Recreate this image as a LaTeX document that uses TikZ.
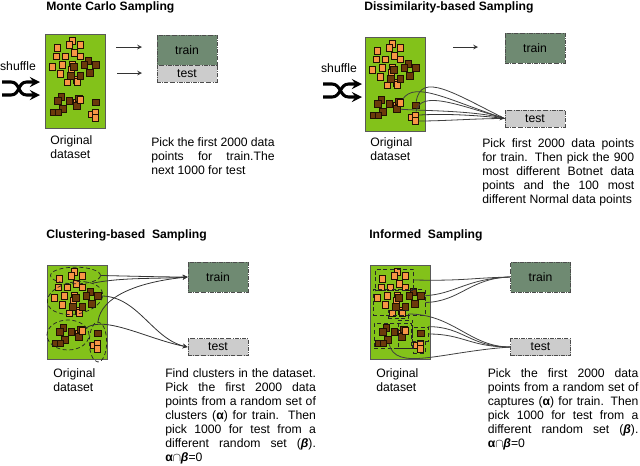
\documentclass[tikz,border=0pt]{standalone}
\usepackage{fontspec}
\setmainfont{Liberation Sans}
\usetikzlibrary{shapes.geometric}

\definecolor{panelgreen}{HTML}{83C21A}
\definecolor{pointorange}{HTML}{F79646}
\definecolor{pointbrown}{HTML}{6B3A0B}
\definecolor{trainfill}{HTML}{6F8A72}
\definecolor{testfill}{HTML}{CCCCCC}

\newcommand{\datapoints}{
    \foreach \i/\x/\y in {1/27.7/7, 2/24/11, 3/35.3/11, 4/12.7/13.7, 5/11/22.3, 6/20/22.3, 7/29.3/19, 8/35.3/22.3,
                          9/7.3/33, 10/17.7/31, 11/15/40, 12/22.3/48.3, 13/27.7/30.3, 14/26/36, 15/31.3/46, 16/32/47.7, 17/31/69}
        \node[orangepoint] (o\i) at (\x,\y) {};
    \foreach \i/\x/\y in {1/43.3/27, 2/39.3/31, 3/50.7/31, 4/44.7/39, 5/28.7/33, 6/26/41.7, 7/35.3/42, 8/16.3/62.7,
                          9/12.7/67, 10/24.3/67, 11/33.7/64.3, 12/32/72, 13/18/75, 14/8.7/78.3, 15/13.3/78.3, 16/50.7/68.3}
        \node[brownpoint] (b\i) at (\x,\y) {};
    \foreach \i/\x/\y in {1/35.3/65.7, 2/46.3/80.3, 3/50.3/78.3, 4/50.3/84}
        \node[orangepoint] (t\i) at (\x,\y) {};
}

\begin{document}
\begin{tikzpicture}[
            x = .75pt, y = -.75pt,
            every node/.style={font=\fontsize{9.15}{10.5}\selectfont, inner sep=0pt},
            heading/.style={anchor=west, font=\fontsize{9.1}{10.5}\selectfont\bfseries},
            body/.style={anchor=north west, align=justify},
            caption/.style={anchor=north west, align=left},
            dataset/.style={fill=panelgreen, draw=black!65, line width=.7pt, minimum width=45pt, minimum height=70.5pt},
            orangepoint/.style={fill=pointorange, draw=black!70!pointbrown, line width=.5pt, minimum width=4.6pt, minimum height=5.2pt},
            brownpoint/.style={fill=pointbrown, draw=black!70!pointbrown, line width=.5pt, minimum width=4.8pt, minimum height=5.2pt},
            trainbox/.style={fill=trainfill, draw=black!70, densely dashdotted, line width=.7pt, minimum width=45pt, minimum height=22.5pt},
            testbox/.style={fill=testfill, draw=black!70, densely dashdotted, line width=.7pt, minimum width=45pt, minimum height=12.75pt},
            cluster/.style={ellipse, draw=black!85, densely dashed, line width=.55pt},
            capture/.style={draw=black!85, densely dashed, line width=.55pt},
            shufflearrow/.style={line width=2.3pt, -stealth},
            line/.style={line width=.6pt, black!75},
            link/.style={line width=.6pt, black!80, -stealth},
            ]
        \useasboundingbox (0,0) rectangle (640,465);

        % monte carlo
        \node[heading] (mc-title) at (46,7) {Monte Carlo Sampling};
        \node[dataset] (mc-data) at (75,81) {};
        \begin{scope}[shift={(45,34)}, name prefix=mc-]
            \datapoints
        \end{scope}
        \node[trainbox] (mc-train) at (187,50) {train};
        \node[testbox] (mc-test) at (187,73.5) {test};
        \node (mc-shuffle) at (18,66) {shuffle};
        \coordinate (mc-in1) at (2,82);
        \coordinate (mc-in2) at (2,95);
        \coordinate (mc-out1) at (40,82);
        \coordinate (mc-out2) at (40,95);
        \draw[shufflearrow] (mc-in1) -- ++(9,0) .. controls +(9,0) and +(-9,0) .. ([xshift=-10pt]mc-out2) -- (mc-out2);
        \draw[shufflearrow] (mc-in2) -- ++(9,0) .. controls +(9,0) and +(-9,0) .. ([xshift=-10pt]mc-out1) -- (mc-out1);
        \coordinate (mc-a1) at (116,47);
        \coordinate (mc-b1) at (142,47);
        \coordinate (mc-a2) at (117,73);
        \coordinate (mc-b2) at (142,73);
        \draw[link] (mc-a1) -- (mc-b1);
        \draw[link] (mc-a2) -- (mc-b2);
        \node[caption] (mc-label) at (50,135.5) {Original\\dataset};
        \node[body, text width=92.5pt] (mc-text) at (151,137.5) {Pick the first 2000 data\linebreak points for train.The\linebreak next 1000 for test};

        % dissimilarity
        \node[heading] (ds-title) at (364,7) {Dissimilarity-based Sampling};
        \node[dataset] (ds-data) at (395,84) {};
        \begin{scope}[shift={(365,37)}, name prefix=ds-]
            \datapoints
        \end{scope}
        \node[trainbox] (ds-train) at (535,48) {train};
        \node[testbox] (ds-test) at (535,118.5) {test};
        \node (ds-shuffle) at (339,68) {shuffle};
        \coordinate (ds-in1) at (323,84);
        \coordinate (ds-in2) at (323,97);
        \coordinate (ds-out1) at (362,84);
        \coordinate (ds-out2) at (362,97);
        \draw[shufflearrow] (ds-in1) -- ++(9,0) .. controls +(9,0) and +(-9,0) .. ([xshift=-10pt]ds-out2) -- (ds-out2);
        \draw[shufflearrow] (ds-in2) -- ++(9,0) .. controls +(9,0) and +(-9,0) .. ([xshift=-10pt]ds-out1) -- (ds-out1);
        \coordinate (ds-a1) at (453,47);
        \coordinate (ds-b1) at (478,47);
        \draw[link] (ds-a1) -- (ds-b1);
        \draw[line] (ds-t1) .. controls +(15,-22) and +(-55,-18) .. (ds-test.west);
        \draw[line] (ds-b16) .. controls +(5,-34) and +(-50,-25) .. (ds-test.west);
        \draw[line] (ds-b12) .. controls +(30,2) and +(-30,-8) .. (ds-test.west);
        \draw[line] (ds-t3) .. controls +(5,-25) and +(-50,-15) .. (ds-test.west);
        \draw[line] (ds-t4) .. controls +(30,0) and +(-30,0) .. (ds-test.west);
        \draw[link] (ds-t3) .. controls +(30,-2) and +(-25,-3) .. (ds-test.west);
        \node[caption] (ds-label) at (370,137.5) {Original\\dataset};
        \node[body, text width=114pt] (ds-text) at (482,138.5) {Pick first 2000 data points\linebreak for train. Then pick the 900\linebreak most different Botnet data\linebreak points and the 100 most\linebreak different Normal data points};

        % clustering
        \node[heading] (cl-title) at (46,235) {Clustering-based~ Sampling};
        \node[dataset] (cl-data) at (77.5,312.5) {};
        \begin{scope}[shift={(47,265)}, name prefix=cl-]
            \datapoints
        \end{scope}
        \node[cluster, minimum width=37.5pt, minimum height=12.5pt] (cl-c1) at (75.5,275.5) {};
        \node[cluster, minimum width=42pt, minimum height=24pt, rotate=10] (cl-c2) at (75,298) {};
        \node[cluster, minimum width=31.5pt, minimum height=22.5pt] (cl-c3) at (68,335) {};
        \node[cluster, minimum width=13pt, minimum height=30pt] (cl-c4) at (98,342) {};
        \node[trainbox] (cl-train) at (218,277) {train};
        \node[testbox] (cl-test) at (218,347) {test};
        \draw[link] (cl-c1) .. controls +(30,0) and +(-30,0) .. (cl-train.west);
        \draw[link] (cl-c2.north east) .. controls +(30,-6) and +(-30,2) .. (cl-train.west);
        \draw[link] (cl-c4.north) .. controls +(3,-25) and +(-50,5) .. (cl-train.west);
        \draw[link] (cl-b3) .. controls +(40,0) and +(-35,-8) .. (cl-test.west);
        \draw[link] (cl-t1) .. controls +(22,-16) and +(-40,-8) .. (cl-test.west);
        \node[caption] (cl-label) at (53,368) {Original\\dataset};
        \node[body, text width=113pt] (cl-text) at (165,368) {Find clusters in the dataset.\linebreak Pick the first 2000 data\linebreak points from a random set of\linebreak clusters (\textbf{α}) for train. Then\linebreak pick 1000 for test from a\linebreak different random set (\textbf{\textit{β}}).\linebreak \textbf{α}$\cap$\textbf{\textit{β}}=0};

        % informed
        \node[heading] (in-title) at (369,235) {Informed~ Sampling};
        \node[dataset] (in-data) at (400,312.5) {};
        \begin{scope}[shift={(370,265)}, name prefix=in-]
            \datapoints
        \end{scope}
        \node[capture, minimum width=29pt, minimum height=16pt] (in-r1) at (394.5,280) {};
        \node[capture, minimum width=39pt, minimum height=19pt] (in-r2) at (399,302.5) {};
        \node[capture, minimum width=15pt, minimum height=6pt] (in-r3) at (398,314) {};
        \node[capture, minimum width=28pt, minimum height=19pt] (in-r4) at (393,336) {};
        \node[capture, minimum width=11pt, minimum height=21pt] (in-r5) at (405.5,334) {};
        \node[capture, minimum width=12pt, minimum height=10.5pt] (in-r6) at (420,334) {};
        \node[capture, minimum width=9pt, minimum height=9pt] (in-r7) at (419,347) {};
        \node[trainbox] (in-train) at (540.5,277) {train};
        \node[testbox] (in-test) at (540.5,347) {test};
        \draw[line] (in-r1.east) .. controls +(50,1) and +(-40,1) .. (in-train.west);
        \draw[line] (in-r2.east) .. controls +(35,-1) and +(-40,1) .. (in-train.west);
        \draw[line] (in-b3) .. controls +(35,-2) and +(-45,2) .. (in-train.west);
        \draw[line] (in-r3.east) .. controls +(45,0) and +(-40,0) .. (in-test.west);
        \draw[line] (in-r6.north east) .. controls +(35,0) and +(-40,0) .. (in-test.west);
        \draw[line] (in-r6.east) .. controls +(35,0) and +(-40,0) .. (in-test.west);
        \draw[line] (in-b13) .. controls +(8,32) and +(-70,5) .. (in-test.west);
        \node[caption] (in-label) at (376,368) {Original\\dataset};
        \node[body, text width=113pt] (in-text) at (487.5,368) {Pick the first 2000 data\linebreak points from a random set of\linebreak captures (\textbf{α}) for train. Then\linebreak pick 1000 for test from a\linebreak different random set (\textbf{\textit{β}}).\linebreak \textbf{α}$\cap$\textbf{\textit{β}}=0};
    \end{tikzpicture}
\end{document}
